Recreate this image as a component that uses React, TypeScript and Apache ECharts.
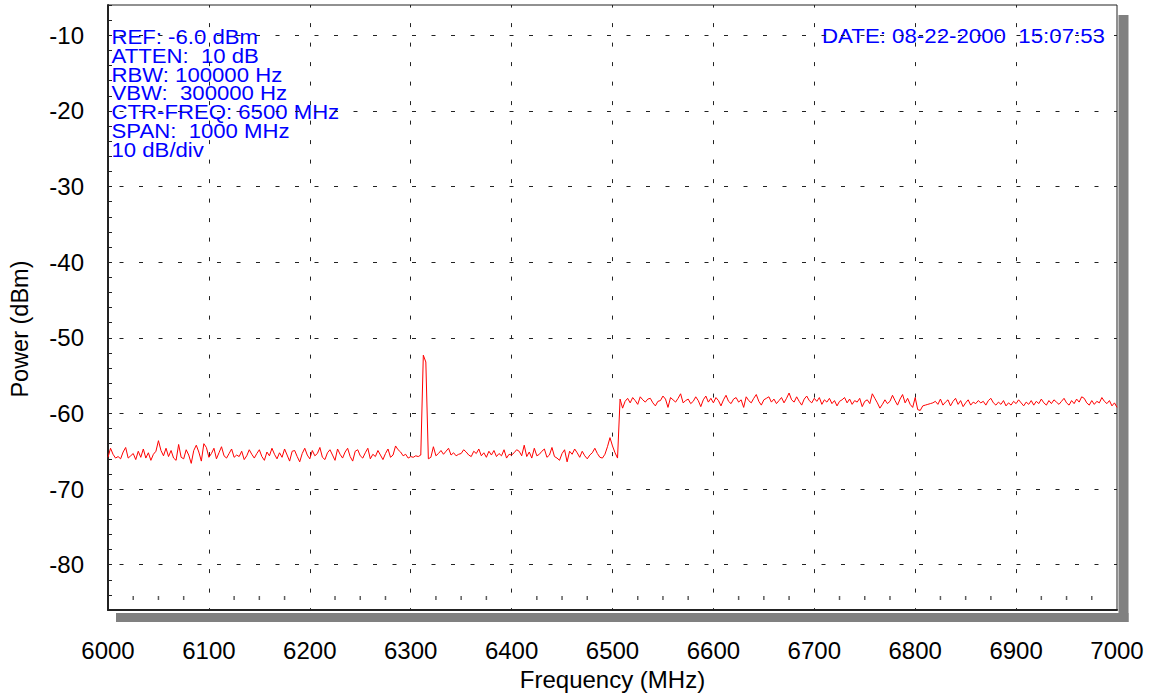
import { useEffect, useRef } from 'react';
import * as echarts from 'echarts';

const FREQ_START = 6000;
const FREQ_STEP = 2.5;

// 6000 .. 6310 MHz
const noiseLowA = [
  -65.8, -64.6, -65.4, -65.9, -65.7, -66.0, -65.1, -64.5, -65.9, -65.6, -65.3, -66.1, -65.0, -65.8, -64.7, -65.9, -65.2, -66.2, -65.4, -65.0,
  -63.6, -64.9, -65.6, -64.6, -65.7, -64.9, -65.9, -66.2, -64.1, -65.8, -66.0, -64.8, -65.5, -66.6, -64.9, -64.2, -65.1, -66.3, -64.0, -64.5,
  -65.8, -65.3, -64.6, -66.0, -65.2, -64.4, -65.6, -65.9, -65.3, -64.7, -65.8, -65.5, -65.7, -65.0, -66.1, -65.6, -64.8, -65.4, -65.9, -65.3,
  -64.8, -65.7, -66.2, -65.1, -65.6, -64.6, -65.4, -66.0, -65.2, -65.8, -64.7, -65.5, -66.3, -65.0, -64.9, -65.7, -66.4, -65.3, -64.6, -65.5,
  -66.0, -64.9, -65.6, -65.3, -64.5, -65.8, -66.1, -65.2, -64.8, -65.5, -66.2, -64.7, -65.4, -65.9, -65.1, -64.6, -65.7, -66.3, -65.0, -64.8,
  -65.6, -65.9, -65.2, -64.6, -66.0, -65.4, -65.7, -64.9, -65.5, -66.1, -65.3, -64.7, -65.8, -65.5, -64.3, -64.8, -65.1, -65.6, -65.4, -65.9,
  -65.7, -65.8, -65.6, -65.7, -65.5,
];
// 6312.5 .. 6317.5 MHz
const spikeVals = [-52.3, -53.2, -66.0];
// 6320 .. 6495 MHz
const noiseLowB = [
  -65.8, -64.4, -65.6, -65.3, -64.9, -65.4, -65.0, -64.6, -65.5, -65.2, -65.6, -65.4, -65.3, -64.8, -65.1, -65.5, -65.7, -65.0, -65.3, -64.7,
  -65.6, -65.2, -65.8, -65.0, -65.5, -64.9, -65.7, -65.3, -65.6, -64.8, -65.9, -65.4, -65.5, -65.2, -64.8, -65.0, -65.6, -64.2, -65.7, -65.1,
  -65.9, -64.6, -65.6, -65.4, -65.0, -64.7, -65.8, -65.5, -64.5, -65.7, -65.9, -66.2, -65.3, -64.8, -66.4, -65.0, -65.4, -64.7, -65.2, -65.8,
  -65.0, -65.6, -66.0, -65.5, -65.2, -64.6, -65.3, -65.8, -65.9, -65.4, -64.4,
];
// 6497.5 .. 6510 MHz
const stepVals = [-63.2, -64.3, -65.2, -65.9, -58.1, -59.3];
// 6512.5 .. 6800 MHz
const noiseHighA = [
  -58.4, -58.0, -58.6, -57.9, -58.3, -58.8, -57.8, -58.2, -58.5, -58.1, -58.0, -58.6, -59.0, -58.4, -58.3, -57.7, -58.1, -59.2, -57.9, -58.2,
  -58.5, -58.0, -57.4, -58.6, -58.3, -58.1, -58.7, -58.4, -57.8, -58.3, -59.1, -58.2, -57.7, -58.5, -58.0, -58.6, -57.9, -58.3, -59.0, -58.2,
  -57.6, -58.4, -58.7, -58.1, -57.9, -58.5, -58.2, -59.2, -57.8, -58.3, -58.6, -58.0, -57.5, -58.4, -58.9, -58.2, -58.0, -57.8, -58.5, -58.1,
  -58.7, -58.3, -57.9, -58.6, -58.0, -57.3, -58.2, -58.5, -57.8, -58.4, -58.9, -58.1, -57.7, -58.3, -58.6, -58.0, -58.4, -57.9, -58.8, -58.2,
  -58.5, -58.0, -58.7, -58.3, -59.0, -58.4, -58.2, -57.9, -58.6, -58.1, -58.8, -58.3, -58.5, -58.0, -59.1, -58.4, -58.2, -58.7, -57.4, -58.0,
  -58.6, -59.3, -58.8, -58.2, -58.7, -58.4, -57.6, -58.3, -58.9, -58.1, -57.5, -58.6, -58.0, -58.8, -59.2, -57.9,
];
// 6802.5 .. 7000 MHz
const noiseHighB = [
  -59.5, -59.6, -59.0, -58.9, -58.8, -58.7, -58.6, -58.4, -58.8, -58.1, -58.9, -58.5, -58.2, -59.0, -58.4, -58.0, -58.8, -58.3, -59.1, -58.6,
  -58.2, -58.9, -58.5, -58.7, -58.3, -58.6, -58.4, -58.9, -58.3, -58.0, -58.6, -58.9, -58.5, -58.8, -58.3, -59.0, -58.6, -58.9, -58.4, -58.7,
  -58.2, -58.6, -59.0, -58.5, -58.8, -58.3, -58.9, -58.4, -58.7, -58.1, -58.6, -58.9, -58.3, -58.7, -58.2, -58.5, -58.8, -58.4, -58.0, -58.6,
  -58.9, -58.3, -58.7, -58.1, -58.5, -57.8, -58.0, -58.6, -58.9, -58.3, -58.8, -58.4, -58.6, -57.9, -58.4, -58.7, -58.3, -59.0, -58.6, -59.2,
];

const traceDbm = [...noiseLowA, ...spikeVals, ...noiseLowB, ...stepVals, ...noiseHighA, ...noiseHighB];

const xGridLines = [6100, 6200, 6300, 6400, 6500, 6600, 6700, 6800, 6900];
const yGridLines = [-80, -70, -60, -50, -40, -30, -20, -10];
const xMinorTicks = [
  6025, 6050, 6075, 6125, 6150, 6175, 6225, 6250, 6275, 6325, 6350, 6375, 6425, 6450, 6475,
  6525, 6550, 6575, 6625, 6650, 6675, 6725, 6750, 6775, 6825, 6850, 6875, 6925, 6950, 6975,
];

const infoLines = [
  'REF: -6.0 dBm',
  'ATTEN:  10 dB',
  'RBW: 100000 Hz',
  'VBW:  300000 Hz',
  'CTR-FREQ: 6500 MHz',
  'SPAN:  1000 MHz',
  '10 dB/div',
];
const dateText = 'DATE: 08-22-2000  15:07:53';

const FONT = '"Liberation Sans", Arial, Helvetica, sans-serif';

function measure(text: string, size: number): number {
  const ctx = document.createElement('canvas').getContext('2d');
  if (!ctx) return text.length * size * 0.55;
  ctx.font = `${size}px "Liberation Sans"`;
  return ctx.measureText(text).width;
}

export default function App() {
  const ref = useRef<HTMLDivElement>(null);

  useEffect(() => {
    if (!ref.current) return;
    const chart = echarts.init(ref.current, undefined, { renderer: 'svg' });

    const INFO_SIZE = 19.5;
    const infoScale =
      (144 / measure(infoLines[0], INFO_SIZE) + 232 / measure(infoLines[4], INFO_SIZE)) / 2;
    const dateScale = 283 / measure(dateText, INFO_SIZE);

    const gridDash = { color: '#222', width: 1 };

    const option: any = {
      animation: false,
      backgroundColor: '#ffffff',
      grid: {
        left: 106,
        top: 5,
        width: 1011,
        height: 607,
        show: true,
        borderColor: '#222',
        borderWidth: 1,
        backgroundColor: '#ffffff',
      },
      xAxis: {
        type: 'value',
        min: 6000,
        max: 7000,
        interval: 25,
        name: 'Frequency (MHz)',
        nameLocation: 'middle',
        nameGap: 55,
        nameTextStyle: { fontSize: 24, color: '#000', fontFamily: FONT },
        axisLine: { show: true, lineStyle: { color: '#222', width: 2 } },
        axisTick: { show: false },
        axisLabel: {
          formatter: (v: number) => (v % 100 === 0 ? String(v) : ''),
          fontSize: 24,
          color: '#000',
          margin: 28,
          fontFamily: FONT,
        },
        splitLine: { show: false },
      },
      yAxis: {
        type: 'value',
        min: -86,
        max: -6,
        interval: 2,
        name: 'Power (dBm)',
        nameLocation: 'middle',
        nameGap: 76,
        nameTextStyle: { fontSize: 23.5, color: '#000', fontFamily: FONT, padding: [0, 43, 0, 0] },
        axisLine: { show: true, lineStyle: { color: '#222', width: 2 } },
        axisTick: { show: true, inside: true, length: 4, lineStyle: { color: '#222' } },
        axisLabel: {
          formatter: (v: number) => (v % 10 === 0 ? String(v) : ''),
          fontSize: 24,
          color: '#000',
          margin: 24,
          fontFamily: FONT,
        },
        splitLine: { show: false },
      },
      series: [
        {
          type: 'line',
          name: 'Power',
          data: traceDbm.map((v, i) => [FREQ_START + i * FREQ_STEP, v]),
          showSymbol: false,
          symbol: 'none',
          lineStyle: { color: '#ff0000', width: 1 },
          z: 10,
          silent: true,
          markLine: {
            silent: true,
            symbol: 'none',
            z: 5,
            label: { show: false },
            emphasis: { disabled: true },
            lineStyle: gridDash,
            data: [
              ...yGridLines.map((v) => ({
                yAxis: v,
                lineStyle: { ...gridDash, type: [4, 15.5], dashOffset: 7.5 },
              })),
              ...xGridLines.map((v) => ({
                xAxis: v,
                lineStyle: { ...gridDash, type: [4, 15.5], dashOffset: 1.5 },
              })),
            ],
          },
        },
        {
          type: 'scatter',
          name: 'minorTicks',
          data: xMinorTicks.map((f) => [f, -84.4]),
          symbol: 'rect',
          symbolSize: [1.5, 4],
          itemStyle: { color: '#333' },
          silent: true,
          z: 5,
        },
      ],
      graphic: [
        {
          type: 'rect',
          shape: { x: 1118.5, y: 15, width: 10, height: 607 },
          style: { fill: '#808080' },
          silent: true,
        },
        {
          type: 'rect',
          shape: { x: 116, y: 613, width: 1012.5, height: 9 },
          style: { fill: '#808080' },
          silent: true,
        },
        {
          type: 'group',
          x: 111.5,
          y: 0,
          scaleX: infoScale,
          silent: true,
          children: infoLines.map((t, i) => ({
            type: 'text',
            x: 0,
            y: 36.7 + i * 18.9,
            style: {
              text: t,
              fill: '#0000ff',
              fontSize: INFO_SIZE,
              fontFamily: FONT,
              align: 'left',
              verticalAlign: 'middle',
            },
          })),
        },
        {
          type: 'group',
          x: 1105,
          y: 0,
          scaleX: dateScale,
          silent: true,
          children: [
            {
              type: 'text',
              x: 0,
              y: 36.5,
              style: {
                text: dateText,
                fill: '#0000ff',
                fontSize: INFO_SIZE,
                fontFamily: FONT,
                align: 'right',
                verticalAlign: 'middle',
              },
            },
          ],
        },
      ],
    };

    chart.setOption(option);
    return () => {
      chart.dispose();
    };
  }, []);

  return (
    <div
      ref={ref}
      style={{ position: 'absolute', left: 0, top: 0, width: 1154, height: 696, background: '#fff' }}
    />
  );
}
